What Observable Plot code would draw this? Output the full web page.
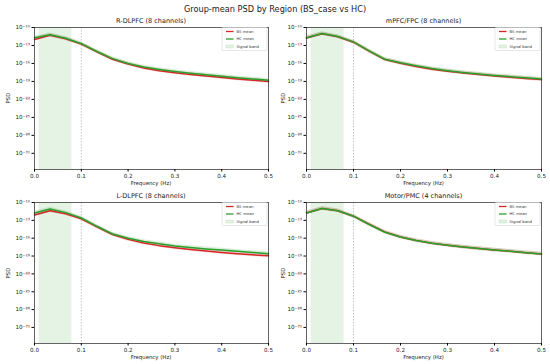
<!DOCTYPE html>
<html><head><meta charset="utf-8">
<script src="https://cdn.jsdelivr.net/npm/d3@7"></script>
<script src="https://cdn.jsdelivr.net/npm/@observablehq/plot@0.6"></script>
<style>
body{margin:0;background:#fff;font-family:"DejaVu Sans",sans-serif;}
#wrap{position:relative;width:550px;height:364px;overflow:hidden;background:#fff;}
.abs{position:absolute;white-space:nowrap;color:#222;}
</style></head><body>
<div id="wrap"></div>
<script>
// frequencies (Hz)
const freqs = [0, 0.0333, 0.0667, 0.1, 0.1333, 0.1667, 0.2, 0.2333, 0.2667, 0.3, 0.3333, 0.3667, 0.4, 0.4333, 0.4667, 0.5];
// log10 PSD group means
const rdlpfcHC = [-11.7, -11.2, -11.8, -12.7, -14.0, -15.2, -16.0, -16.6, -17.0, -17.35, -17.65, -17.9, -18.15, -18.4, -18.6, -18.8];
const rdlpfcBS = [-12.0, -11.3, -11.9, -12.75, -14.05, -15.3, -16.1, -16.75, -17.2, -17.55, -17.85, -18.1, -18.35, -18.6, -18.8, -19.0];
const mpfcHC = [-11.7, -11.0, -11.5, -12.4, -13.9, -15.3, -15.9, -16.4, -16.85, -17.2, -17.5, -17.75, -18.0, -18.2, -18.4, -18.6];
const mpfcBS = [-11.75, -11.05, -11.55, -12.45, -13.95, -15.35, -15.95, -16.5, -16.95, -17.3, -17.6, -17.85, -18.1, -18.3, -18.5, -18.7];
const ldlpfcHC = [-11.75, -11.1, -11.7, -12.6, -14.0, -15.3, -16.0, -16.55, -16.95, -17.3, -17.55, -17.8, -18.0, -18.2, -18.4, -18.6];
const ldlpfcBS = [-12.1, -11.4, -11.9, -12.75, -14.1, -15.4, -16.2, -16.8, -17.25, -17.6, -17.9, -18.15, -18.4, -18.6, -18.8, -18.95];
const motorHC = [-11.75, -11.0, -11.4, -12.3, -13.7, -15.0, -15.8, -16.4, -16.85, -17.2, -17.5, -17.75, -18.0, -18.2, -18.45, -18.65];
const motorBS = [-11.75, -11.0, -11.4, -12.3, -13.65, -14.95, -15.8, -16.4, -16.85, -17.2, -17.5, -17.75, -18.0, -18.2, -18.45, -18.65];
const panelTitles = ["R-DLPFC (8 channels)", "mPFC/FPC (8 channels)", "L-DLPFC (8 channels)", "Motor/PMC (4 channels)"];
const groups = ["BS", "HC"];
const groupLabels = ["BS mean", "HC mean"];
const colors = ["#d62728", "#2ca02c"];
const yTickExp = [-10, -13, -16, -19, -22, -25, -28, -31];
const xTicks = [0, 0.1, 0.2, 0.3, 0.4, 0.5];
const signalBand = [0.01, 0.08];
const bandHalfWidth = 0.3; // log10 half-width of the shaded spread

const series = [[rdlpfcBS, rdlpfcHC], [mpfcBS, mpfcHC], [ldlpfcBS, ldlpfcHC], [motorBS, motorHC]];

const supMap = {"-":"⁻","0":"⁰","1":"¹","2":"²","3":"³","4":"⁴","5":"⁵","6":"⁶","7":"⁷","8":"⁸","9":"⁹"};
const sup = v => "10" + String(Math.round(Math.log10(v))).split("").map(c => supMap[c]).join("");

const wrap = document.getElementById("wrap");
function addText(txt, x, y, size, opts = {}) {
  const d = document.createElement("div");
  d.className = "abs";
  d.textContent = txt;
  d.style.fontSize = size + "px";
  d.style.left = x + "px";
  d.style.top = y + "px";
  d.style.transform = opts.transform || "translate(-50%,-50%)";
  wrap.appendChild(d);
}

addText("Group-mean PSD by Region (BS_case vs HC)", 275, 9, 8.2);

const layout = [
  {left: 0, top: 14, ml: 34, mr: 7, mt: 13, mb: 17, h: 172},
  {left: 275, top: 14, ml: 31, mr: 9, mt: 13, mb: 17, h: 172},
  {left: 0, top: 189, ml: 34, mr: 7, mt: 13, mb: 21, h: 175},
  {left: 275, top: 189, ml: 31, mr: 9, mt: 13, mb: 21, h: 175}
];

layout.forEach((L, i) => {
  const data = [];
  series[i].forEach((vals, g) => vals.forEach((v, k) => data.push({f: freqs[k], v, group: groups[g]})));
  const plot = Plot.plot({
    width: 275, height: L.h,
    marginLeft: L.ml, marginRight: L.mr, marginTop: L.mt, marginBottom: L.mb,
    style: {fontSize: "5.6px", fontFamily: "DejaVu Sans", background: "transparent", overflow: "visible"},
    x: {domain: [0, 0.5]},
    y: {type: "log", domain: [10 ** -33.7, 1e-10]},
    color: {domain: groups, range: colors},
    marks: [
      Plot.rect([signalBand], {x1: d => d[0], x2: d => d[1], fill: "#2ca02c", fillOpacity: 0.12}),
      Plot.ruleX([0.1], {stroke: "#999", strokeWidth: 0.6, strokeDasharray: "1.5,1.5"}),
      Plot.areaY(data, {x: "f", y1: d => 10 ** (d.v - bandHalfWidth), y2: d => 10 ** (d.v + bandHalfWidth), fill: "group", fillOpacity: 0.18, z: "group"}),
      Plot.line(data, {x: "f", y: d => 10 ** d.v, stroke: "group", strokeWidth: 1.5, z: "group"}),
      Plot.frame({stroke: "#222", strokeWidth: 0.7}),
      Plot.axisX({ticks: xTicks, tickFormat: d3.format(".1f"), tickSize: 2.5, tickPadding: 2, label: null, fill: "#222"}),
      Plot.axisY({ticks: yTickExp.map(e => 10 ** e), tickFormat: sup, tickSize: 2.5, tickPadding: 2, label: null, fill: "#222"})
    ]
  });
  plot.style.position = "absolute";
  plot.style.left = L.left + "px";
  plot.style.top = L.top + "px";
  wrap.appendChild(plot);

  // legend inside upper right
  const svg = d3.select(plot);
  const x0 = 275 - L.mr - 46, y0 = L.mt + 0.5;
  const g = svg.append("g").attr("transform", `translate(${x0},${y0})`)
    .style("font-size", "3.8px").style("text-anchor", "start");
  g.append("rect").attr("width", 45).attr("height", 23).attr("rx", 1).attr("fill", "white").attr("fill-opacity", 0.85).attr("stroke", "#ccc").attr("stroke-width", 0.5);
  groupLabels.forEach((lab, j) => {
    const yy = 4 + j * 7.5;
    g.append("line").attr("x1", 4).attr("x2", 11.5).attr("y1", yy).attr("y2", yy).attr("stroke", colors[j]).attr("stroke-width", 1.3);
    g.append("text").attr("x", 14.5).attr("y", yy).attr("dy", "0.35em").style("fill", "#333").style("text-anchor", "start").text(lab);
  });
  g.append("rect").attr("x", 4).attr("y", 17.5).attr("width", 7.5).attr("height", 3).attr("fill", "#2ca02c").attr("fill-opacity", 0.12).attr("stroke", "#2ca02c").attr("stroke-opacity", 0.3).attr("stroke-width", 0.4);
  g.append("text").attr("x", 14.5).attr("y", 19).attr("dy", "0.35em").style("fill", "#333").style("text-anchor", "start").text("Signal band");

  const plotLeft = L.left + L.ml, plotRight = L.left + 275 - L.mr;
  const plotTop = L.top + L.mt, plotBottom = L.top + L.h - L.mb;
  addText(panelTitles[i], (plotLeft + plotRight) / 2, plotTop - 6, 6.5);
  addText("Frequency (Hz)", (plotLeft + plotRight) / 2, plotBottom + 14, 5.4);
  addText("PSD", L.left + 8, (plotTop + plotBottom) / 2, 5.4, {transform: "translate(-50%,-50%) rotate(-90deg)"});
});
</script>
</body></html>
